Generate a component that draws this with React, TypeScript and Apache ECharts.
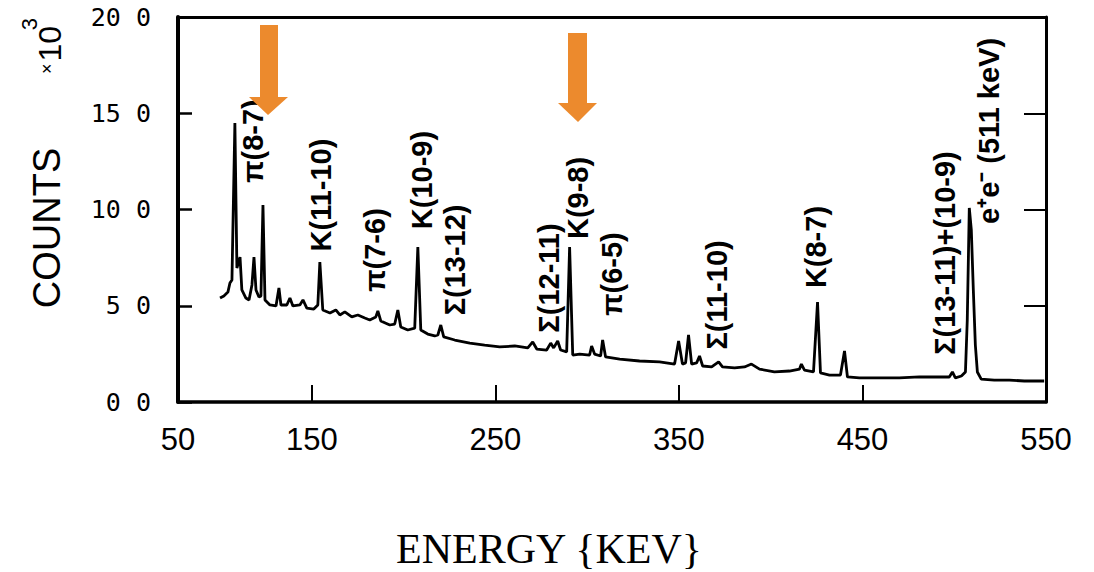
import React, { useEffect, useRef } from "react";
import * as echarts from "echarts";

// Spectrum: energy (keV) and counts (x10^3)
const energy = [
  99.9, 102.0, 104.2, 105.3, 106.4, 108.0, 109.1, 110.8, 111.8, 114.0, 115.7, 117.3, 118.4, 119.5,
  121.1, 122.2, 123.3, 124.4, 127.1, 130.4, 132.0, 133.1, 136.3, 138.0, 139.6, 143.4, 145.1, 147.2,
  151.0, 153.2, 154.3, 155.9, 159.8, 163.0, 165.2, 167.9, 171.7, 175.0, 178.8, 181.5, 184.8, 185.9,
  187.5, 192.4, 195.1, 196.8, 198.4, 202.2, 206.0, 207.7, 209.3, 213.1, 216.9, 218.6, 220.2, 221.8,
  227.8, 236.0, 244.1, 252.3, 260.5, 267.6, 270.3, 272.5, 277.9, 280.1, 281.7, 283.9, 285.5, 288.8,
  290.4, 292.1, 295.9, 301.3, 302.4, 304.0, 307.3, 308.4, 310.0, 317.7, 328.5, 339.4, 347.6, 349.8,
  351.9, 353.6, 355.2, 356.9, 359.6, 361.2, 362.9, 367.8, 371.6, 373.7, 380.3, 385.7, 389.5, 393.9,
  402.0, 410.2, 415.7, 416.7, 418.4, 423.3, 425.5, 427.1, 432.0, 438.0, 440.2, 441.8, 448.3, 459.2,
  470.1, 481.0, 491.9, 497.3, 499.0, 500.6, 503.9, 506.1, 507.1, 508.2, 509.3, 510.4, 511.5, 512.6,
  514.7, 521.8, 530.0, 538.2, 546.3, 549.0,
];
const counts = [
  5.40, 5.51, 5.71, 6.18, 6.34, 14.49, 6.96, 7.53, 5.82, 5.40, 5.30, 6.08, 7.53, 5.82,
  5.45, 5.51, 10.23, 5.30, 5.04, 4.99, 5.92, 5.04, 5.04, 5.40, 4.99, 5.04, 5.30, 4.88,
  4.83, 5.04, 7.27, 4.78, 4.62, 4.78, 4.52, 4.68, 4.42, 4.52, 4.36, 4.26, 4.42, 4.73,
  4.21, 4.00, 4.05, 4.78, 3.90, 3.74, 3.84, 8.05, 3.74, 3.53, 3.43, 3.48, 4.00, 3.38,
  3.22, 3.06, 2.96, 2.86, 2.91, 2.81, 3.12, 2.75, 2.70, 3.06, 2.81, 3.17, 2.70, 2.60,
  8.05, 2.44, 2.49, 2.44, 2.91, 2.49, 2.39, 3.22, 2.34, 2.23, 2.13, 2.08, 1.97, 3.17,
  1.97, 2.03, 3.48, 1.97, 2.03, 2.39, 1.87, 1.82, 2.08, 1.82, 1.77, 1.82, 1.97, 1.71,
  1.56, 1.61, 1.71, 1.97, 1.66, 1.56, 5.19, 1.51, 1.40, 1.40, 2.65, 1.30, 1.25, 1.25,
  1.25, 1.30, 1.30, 1.30, 1.56, 1.25, 1.35, 1.56, 4.26, 10.08, 8.94, 5.82, 2.96, 1.56,
  1.19, 1.14, 1.14, 1.09, 1.09, 1.09,
];

// Peak annotations (label centre in data coordinates)
const peakNames = [
  "π(8-7)", "K(11-10)", "π(7-6)", "K(10-9)", "Σ(13-12)", "Σ(12-11)", "K(9-8)", "π(6-5)",
  "Σ(11-10)", "K(8-7)", "Σ(13-11)+(10-9)", "e⁺e⁻ (511 keV)",
];
const peakLabelEnergy = [117.8, 154.9, 184.3, 209.8, 227.8, 279.0, 294.8, 313.3, 370.5, 424.9, 495.1, 519.1];
const peakLabelCounts = [13.56, 10.75, 7.9, 11.53, 7.38, 6.44, 10.6, 6.65, 5.56, 8.05, 7.74, 14.08];

// Axis ticks and labels
const xMin = 77;
const xMax = 550;
const xTickValues = [150, 250, 350, 450];
const xLabelValues = [77, 150, 250, 350, 450, 550];
const xLabelTexts = ["50", "150", "250", "350", "450", "550"];
const yMin = 0;
const yMax = 20;
const yInterval = 5;

const ORANGE = "#EC8A2D";

export default function App() {
  const ref = useRef<HTMLDivElement>(null);

  useEffect(() => {
    if (!ref.current) return;
    const chart = echarts.init(ref.current, undefined, { renderer: "svg" });
    const lineData = energy.map((e, i) => [e, counts[i]]);
    const labelData = peakNames.map((n, i) => ({ name: n, value: [peakLabelEnergy[i], peakLabelCounts[i]] }));

    chart.setOption({
      animation: false,
      backgroundColor: "#ffffff",
      grid: { left: 178, right: 48, top: 17, bottom: 170 },
      xAxis: [
        {
          type: "value",
          min: xMin,
          max: xMax,
          position: "bottom",
          axisLine: { show: true, onZero: false, lineStyle: { color: "#000", width: 3.5 } },
          axisTick: { show: true, inside: true, length: 17, customValues: xTickValues, lineStyle: { color: "#000", width: 2 } },
          axisLabel: {
            show: true,
            customValues: xLabelValues,
            formatter: (v: number) => {
              const idx = xLabelValues.indexOf(v);
              return idx >= 0 ? xLabelTexts[idx] : "";
            },
            color: "#000",
            fontSize: 31,
            fontFamily: "Liberation Sans",
            margin: 22,
          },
          splitLine: { show: false },
        },
        {
          type: "value",
          min: xMin,
          max: xMax,
          position: "top",
          axisLine: { show: true, onZero: false, lineStyle: { color: "#000", width: 3 } },
          axisTick: { show: false },
          axisLabel: { show: false },
          splitLine: { show: false },
        },
      ],
      yAxis: [
        {
          type: "value",
          min: yMin,
          max: yMax,
          interval: yInterval,
          position: "left",
          axisLine: { show: true, onZero: false, lineStyle: { color: "#000", width: 4 } },
          axisTick: { show: true, inside: true, length: 14, lineStyle: { color: "#000", width: 2.5 } },
          axisLabel: {
            formatter: (v: number) => v.toFixed(1).replace(".", " "),
            color: "#000",
            fontSize: 25,
            fontFamily: "DejaVu Sans Mono",
            margin: 27,
          },
          splitLine: { show: false },
        },
        {
          type: "value",
          min: yMin,
          max: yMax,
          interval: yInterval,
          position: "right",
          axisLine: { show: true, onZero: false, lineStyle: { color: "#000", width: 3 } },
          axisTick: { show: true, inside: true, length: 22, lineStyle: { color: "#000", width: 2 } },
          axisLabel: { show: false },
          splitLine: { show: false },
        },
      ],
      series: [
        {
          type: "line",
          data: lineData,
          showSymbol: false,
          symbol: "none",
          lineStyle: { color: "#000", width: 2.8 },
          z: 3,
        },
        {
          type: "scatter",
          data: labelData,
          symbolSize: 1,
          itemStyle: { color: "rgba(0,0,0,0)", opacity: 1 },
          label: {
            show: true,
            position: "inside",
            rotate: 90,
            formatter: "{b}",
            color: "#000",
            opacity: 1,
            fontSize: 29,
            fontWeight: "bold",
            fontFamily: "Liberation Sans",
            align: "center",
            verticalAlign: "middle",
          },
          z: 4,
        },
      ],
      graphic: [
        // orange arrows
        { type: "rect", shape: { x: 260, y: 25, width: 18, height: 73 }, style: { fill: ORANGE }, z: 10 },
        { type: "polygon", shape: { points: [[249, 97], [288, 97], [268, 115]] }, style: { fill: ORANGE }, z: 10 },
        { type: "rect", shape: { x: 568, y: 33, width: 19, height: 71 }, style: { fill: ORANGE }, z: 10 },
        { type: "polygon", shape: { points: [[558, 103], [597, 103], [578, 122]] }, style: { fill: ORANGE }, z: 10 },
        // y-axis title
        {
          type: "text",
          x: 47,
          y: 228,
          rotation: Math.PI / 2,
          style: {
            text: "COUNTS",
            fill: "#000",
            fontSize: 38,
            fontFamily: "Liberation Sans",
            align: "center",
            verticalAlign: "middle",
          },
        },
        {
          type: "text",
          x: 50,
          y: 50,
          rotation: Math.PI / 2,
          style: {
            text: "{a|×}{b|10}",
            rich: {
              a: { fontSize: 18, fontFamily: "Liberation Sans", fill: "#000", padding: [0, 2, 6, 0] },
              b: { fontSize: 32, fontFamily: "Liberation Sans", fill: "#000" },
            },
            fill: "#000",
            align: "center",
            verticalAlign: "middle",
          },
        },
        {
          type: "text",
          x: 29,
          y: 24,
          rotation: Math.PI / 2,
          style: {
            text: "3",
            fill: "#000",
            fontSize: 22,
            fontFamily: "Liberation Sans",
            align: "center",
            verticalAlign: "middle",
          },
        },
        // x-axis title
        {
          type: "text",
          x: 549,
          y: 549,
          style: {
            text: "ENERGY {KEV}",
            fill: "#000",
            fontSize: 42,
            fontFamily: "Liberation Serif",
            align: "center",
            verticalAlign: "middle",
          },
        },
      ],
    });

    return () => chart.dispose();
  }, []);

  return (
    <div
      ref={ref}
      style={{ position: "absolute", left: 0, top: 0, width: 1094, height: 572, background: "#fff" }}
    />
  );
}
